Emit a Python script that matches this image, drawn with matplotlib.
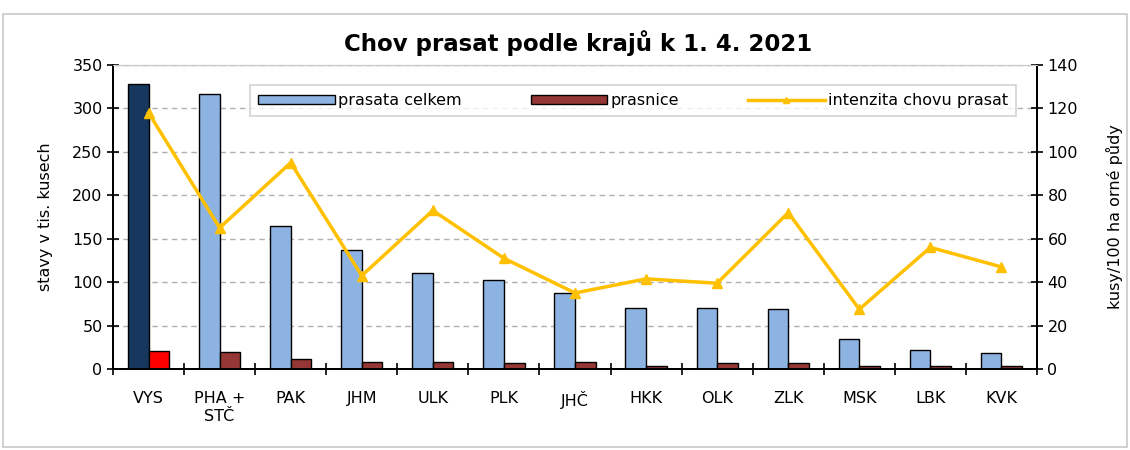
import matplotlib
matplotlib.use("Agg")
import matplotlib.pyplot as plt
from matplotlib.patches import Rectangle, Patch
from matplotlib.lines import Line2D
import numpy as np

categories = ["VYS", "PHA +\nSTČ", "PAK", "JHM", "ULK", "PLK", "JHČ", "HKK", "OLK", "ZLK", "MSK", "LBK", "KVK"]
prasata_celkem = [328, 317, 165, 137, 110, 103, 87, 70, 70, 69, 34, 22, 18]
prasnice = [20.5, 19.5, 11, 8.5, 8.5, 6.5, 8.5, 3, 6.5, 6.5, 3, 3, 3]
intenzita = [118, 65, 95, 43, 73, 51, 35, 41.5, 39.5, 72, 27.5, 56, 47]

plt.rcParams['font.family'] = ['DejaVu Sans']
fig = plt.figure(figsize=(11.3, 4.5), dpi=100)
fig.patches.append(Rectangle((0.003, 0.007), 0.994, 0.963, transform=fig.transFigure,
                             fill=False, edgecolor='#c8c8c8', linewidth=1.2))
ax = fig.add_axes([113/1130, 1-369/450, (1037-113)/1130, (369-65)/450])
ax2 = ax.twinx()

x = np.arange(len(categories))
w = 0.29
blue, dblue, brown, red = '#8db3e2', '#17375e', '#953735', '#ff0000'
blue_colors = [dblue] + [blue] * (len(categories) - 1)
red_colors = [red] + [brown] * (len(categories) - 1)
ax.bar(x - w/2, prasata_celkem, w, color=blue_colors, edgecolor='black', linewidth=1.0, zorder=3)
ax.bar(x + w/2, prasnice, w, color=red_colors, edgecolor='black', linewidth=1.0, zorder=3)
ax2.plot(x, intenzita, color='#ffc000', linewidth=2.5, marker='^', markersize=7, zorder=4)

ax.set_xlim(-0.5, len(categories) - 0.5)
ax.set_ylim(0, 350)
ax2.set_ylim(0, 140)
ax.set_yticks(np.arange(0, 351, 50))
ax2.set_yticks(np.arange(0, 141, 20))
ax.set_xticks(x)
ax.set_xticklabels(categories, fontsize=11.5)
ax.set_xticks(np.arange(-0.5, len(categories), 1), minor=True)
ax.tick_params(axis='x', which='major', length=0, pad=16)
ax.tick_params(axis='x', which='minor', length=9, direction='inout', width=1.2)
ax.tick_params(axis='y', direction='inout', length=8, width=1.2, labelsize=11.5)
ax2.tick_params(axis='y', direction='inout', length=8, width=1.2, labelsize=11.5)

ax.yaxis.grid(True, linestyle=(0, (4, 3)), color='#b0b0b0', linewidth=1.0, zorder=0)
ax.set_axisbelow(True)
for a in (ax, ax2):
    a.spines['top'].set_color('#c8c8c8')
    a.spines['left'].set_linewidth(1.4)
    a.spines['right'].set_linewidth(1.4)
    a.spines['bottom'].set_linewidth(1.4)

ax.set_ylabel('stavy v tis. kusech', fontsize=11.5, labelpad=14)
ax2.set_ylabel('kusy/100 ha orné půdy', fontsize=11.5, labelpad=20, rotation=90)
fig.text(578/1130, 1-43/450, 'Chov prasat podle krajů k 1. 4. 2021', ha='center', va='center',
         fontsize=16.5, fontweight='bold')

handles = [Patch(facecolor=blue, edgecolor='black', linewidth=1.0),
           Patch(facecolor=brown, edgecolor='black', linewidth=1.0),
           Line2D([], [], color='#ffc000', linewidth=2.5, marker='^', markersize=5)]
labels = ['prasata celkem', 'prasnice', 'intenzita chovu prasat']
leg = ax2.legend(handles, labels, ncol=3, loc='lower left',
                 bbox_to_anchor=((250-113)/924, (369-116)/304, (1016-250)/924, 32/304),
                 mode='expand', fontsize=11.5, frameon=True, fancybox=False,
                 edgecolor='#c8c8c8', handlelength=4.8, handleheight=0.5, handletextpad=0.2,
                 borderaxespad=0, columnspacing=2, borderpad=0.5)
leg.get_frame().set_linewidth(1.2)
leg.set_zorder(10)

fig.savefig('out.png', dpi=100)
